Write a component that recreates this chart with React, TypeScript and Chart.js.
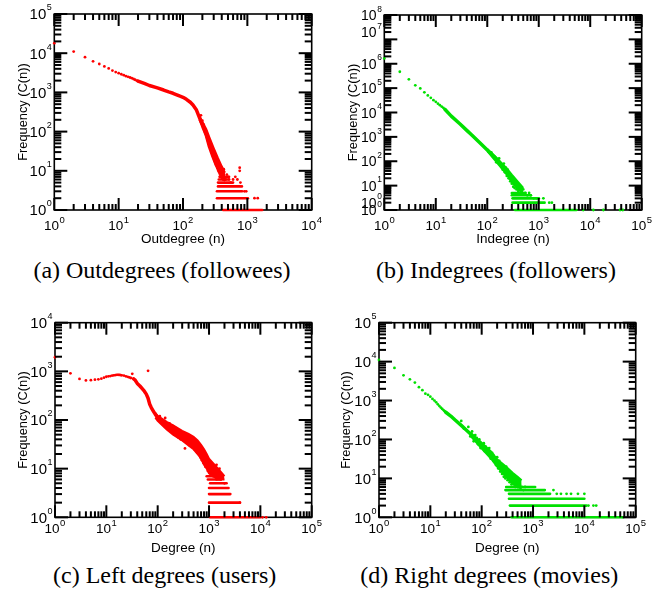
import React, { useEffect, useRef } from 'react';
import { Chart, registerables } from 'chart.js';

Chart.register(...registerables);

const RED = '#ff0000';
const GREEN = '#00e000';
const SANS = "'Liberation Sans', Arial, Helvetica, sans-serif";

// ---------- (a) Outdegrees (followees) ----------
const outHeadX = [1, 2, 3, 4, 5, 6, 7, 8, 9, 10, 11, 12, 13, 14, 15, 16, 17, 18, 19, 20];
const outHeadY = [18000, 11000, 7900, 6200, 5300, 4600, 4100, 3600, 3300, 3100, 2900, 2750, 2600, 2500, 2400, 2300, 2200, 2100, 2000, 1950];
const outCurveX = [20, 25, 30, 40, 50, 60, 70, 80, 90, 100, 113, 130, 143, 162, 182, 204, 230, 258, 293, 330];
const outCurveY = [1950, 1700, 1500, 1300, 1150, 1030, 950, 870, 800, 750, 665, 560, 475, 355, 218, 133, 82, 41, 23, 14];
const outUpperX = [180, 200, 230, 260, 300, 350, 400, 450];
const outUpperY = [250, 180, 115, 68, 38, 21, 13, 9];
const outLowerX = [180, 200, 230, 260, 300, 350, 400, 450];
const outLowerY = [200, 140, 75, 40, 20, 10, 6.5, 5.5];
const outTailX = [190, 200, 210, 220, 230, 240, 250, 260, 270, 280, 290, 300, 310, 320, 330, 340, 350, 360, 370, 380, 390, 400, 410, 420, 430, 440, 460, 480, 500, 520, 550, 600, 650, 700, 760, 760, 780, 820, 900, 960, 1290, 1450];
const outTailY = [260, 190, 150, 110, 100, 70, 60, 48, 45, 33, 38, 22, 28, 17, 20, 12, 18, 10, 15, 8, 12, 7, 9, 6, 11, 7, 6, 8, 7, 6, 5, 6, 7, 6, 12, 10, 5, 4, 3, 3, 2, 2];
const outBandY = [1, 2, 3, 4, 5, 6, 7];
const outBandFrom = [420, 337, 337, 350, 350, 360, 370];
const outBandTo = [1700, 1020, 830, 780, 600, 500, 520];
const outXTicks = [1, 10, 100, 1000, 10000];
const outXExp = ['0', '1', '2', '3', '4'];
const outYTicks = [1, 10, 100, 1000, 10000, 100000];
const outYExp = ['0', '1', '2', '3', '4', '5'];

// ---------- (b) Indegrees (followers) ----------
const inHeadX = [1, 2, 3, 4, 5, 6, 7, 8, 9, 10, 11, 12, 13, 14];
const inHeadY = [1650000, 470000, 230000, 130000, 97000, 67000, 50000, 40000, 32000, 27500, 23000, 20000, 17500, 15500];
const inCurveX = [15, 20, 30, 40, 50, 70, 100, 130, 160, 200, 250];
const inCurveY = [13500, 7100, 3300, 1850, 1200, 600, 290, 170, 110, 60, 36];
const inUpperX = [100, 150, 200, 250, 300, 400, 500];
const inUpperY = [320, 140, 75, 45, 28, 14, 8];
const inLowerX = [100, 150, 200, 250, 300, 400, 500];
const inLowerY = [260, 95, 45, 25, 14, 7, 5];
const inTailX = [120, 140, 150, 170, 180, 200, 210, 220, 230, 240, 250, 260, 270, 280, 290, 300, 310, 320, 330, 340, 350, 370, 380, 400, 420, 450, 480, 500, 550, 600, 650, 700, 800, 900, 1000, 1230, 1600, 1800, 7300, 11500, 18000, 38000, 43000];
const inTailY = [230, 150, 90, 130, 70, 45, 80, 35, 55, 25, 45, 20, 30, 15, 25, 12, 18, 9, 14, 8, 11, 7, 9, 6, 8, 6, 5, 7, 5, 4, 5, 4, 3, 3, 3, 3, 2, 2, 1, 1, 1, 1, 1];
const inBandY = [1, 2, 3, 4, 5];
const inBandFrom = [345, 310, 310, 300, 300];
const inBandTo = [5400, 1300, 980, 700, 550];
const inXTicks = [1, 10, 100, 1000, 10000, 100000];
const inXExp = ['0', '1', '2', '3', '4', '5'];
const inYTicks = [1, 2, 10, 100, 1000, 10000, 100000, 1000000, 20000000, 100000000];
const inYExp = ['0', '0', '1', '2', '3', '4', '5', '6', '7', '8'];

// ---------- (c) Left degrees (users) ----------
const leftHeadX = [1, 2, 3, 4, 5, 6, 7, 8, 9, 10, 11, 12, 13, 14, 15, 16, 17, 18, 19, 20, 22, 24, 26, 28, 30, 32, 34];
const leftHeadY = [1950, 910, 700, 652, 660, 673, 684, 706, 740, 774, 790, 800, 820, 830, 840, 850, 850, 845, 840, 830, 820, 790, 770, 750, 730, 890, 700];
const leftCurveX = [34, 36, 40, 45, 50, 55, 60, 65, 70, 75, 80, 90, 100, 120, 150, 200, 250, 300, 400, 500, 600, 700, 800, 1000, 1200];
const leftCurveY = [700, 670, 565, 500, 440, 390, 340, 280, 210, 180, 160, 130, 112, 95, 78, 62, 52, 45, 38, 32, 26, 22, 18, 12, 9];
const leftUpperX = [90, 100, 150, 200, 300, 400, 500, 600, 700, 800, 900, 1000, 1200, 1500, 2000];
const leftUpperY = [140, 122, 92, 78, 60, 52, 45, 38, 31, 25, 20, 16, 13, 10, 7];
const leftLowerX = [90, 100, 150, 200, 300, 400, 500, 600, 700, 800, 900, 1000, 1200, 1500, 2000];
const leftLowerY = [112, 96, 64, 50, 38, 30, 25, 20, 16, 12, 10, 8, 7, 6, 6];
const leftTailX = [65, 110, 130, 140, 160, 170, 180, 200, 220, 230, 250, 260, 280, 300, 320, 340, 350, 380, 400, 420, 450, 480, 500, 520, 550, 580, 600, 620, 650, 680, 700, 720, 750, 780, 800, 850, 900, 950, 1050, 1100, 1200, 1300, 1400, 1400, 1500, 1600, 1700, 2000, 4000, 11000, 13000];
const leftTailY = [1025, 120, 90, 110, 70, 85, 58, 75, 55, 68, 44, 60, 40, 55, 38, 26, 48, 34, 45, 30, 40, 28, 38, 25, 33, 22, 30, 20, 27, 17, 25, 15, 20, 13, 16, 11, 14, 9, 8, 9, 7, 8, 6, 12, 7, 10, 6, 5, 2, 1, 1];
const leftBandY = [1, 2, 3, 4, 5, 6, 7];
const leftBandFrom = [1050, 1000, 1000, 1000, 1050, 950, 900];
const leftBandTo = [10000, 4000, 2600, 2400, 2200, 1700, 1500];
const leftXTicks = [1, 10, 100, 1000, 10000, 100000];
const leftXExp = ['0', '1', '2', '3', '4', '5'];
const leftYTicks = [1, 10, 100, 1000, 10000];
const leftYExp = ['0', '1', '2', '3', '4'];

// ---------- (d) Right degrees (movies) ----------
const rightHeadX = [1, 2, 3, 4, 5, 6, 7, 8, 9, 10, 11, 12, 13, 14, 15, 16, 17, 18, 19, 20];
const rightHeadY = [11000, 6900, 4450, 3500, 2900, 2200, 1850, 1500, 1400, 1260, 1100, 1000, 900, 800, 720, 660, 610, 570, 530, 500];
const rightCurveX = [20, 25, 30, 40, 50, 60, 70, 80, 100, 120, 150, 200, 250, 300, 400, 500];
const rightCurveY = [500, 400, 320, 230, 175, 140, 112, 95, 70, 55, 40, 26, 18, 14, 10, 8];
const rightUpperX = [60, 100, 150, 200, 300, 400, 500, 600];
const rightUpperY = [150, 82, 50, 31, 20, 14, 11, 9];
const rightLowerX = [60, 100, 150, 200, 300, 400, 500, 600];
const rightLowerY = [125, 58, 33, 20, 11, 7.5, 6, 5.5];
const rightTailX = [40, 45, 55, 60, 65, 70, 75, 80, 85, 90, 95, 110, 115, 120, 130, 140, 150, 160, 168, 170, 180, 190, 200, 210, 220, 230, 240, 250, 260, 270, 280, 290, 300, 320, 330, 350, 370, 380, 400, 420, 450, 480, 500, 550, 600, 650, 700, 2500, 2900, 3500, 4500, 5500, 7500, 10000, 12000, 15000, 17000];
const rightTailY = [300, 190, 210, 120, 160, 90, 130, 110, 75, 100, 60, 80, 50, 65, 45, 60, 32, 45, 40, 28, 35, 22, 35, 18, 28, 15, 22, 13, 19, 11, 16, 10, 20, 9, 12, 8, 13, 7, 9, 7, 6, 8, 6, 7, 6, 5, 6, 5, 4, 4, 4, 4, 4, 4, 2, 2, 2];
const rightBandY = [1, 2, 3, 4, 5, 6];
const rightBandFrom = [385, 355, 340, 340, 290, 300];
const rightBandTo = [58000, 11000, 10000, 2150, 1700, 1100];
const rightXTicks = [1, 10, 100, 1000, 10000, 100000];
const rightXExp = ['0', '1', '2', '3', '4', '5'];
const rightYTicks = [1, 10, 100, 1000, 10000, 100000];
const rightYExp = ['0', '1', '2', '3', '4', '5'];

// Minor-tick multipliers inside each decade of a log axis.
const DECADE_STEPS = [1, 2, 3, 4, 5, 6, 7, 8, 9];

interface Panel {
  left: number; top: number; w: number; h: number;
  area: { l: number; r: number; t: number; b: number };
  xMax: number; yMax: number;
  xTicks: number[]; xExp: string[]; yTicks: number[]; yExp: string[];
  xTitle: string; color: string;
  headX: number[]; headY: number[];
  curveX: number[]; curveY: number[];
  upperX: number[]; upperY: number[]; lowerX: number[]; lowerY: number[];
  tailX: number[]; tailY: number[];
  bandY: number[]; bandFrom: number[]; bandTo: number[];
  xTitleY: number; yTitleX: number; xLabelBase: number; yLabelSize: number;
}

const PANELS: Panel[] = [
  {
    left: 0, top: 0, w: 331, h: 252,
    area: { l: 54.3, r: 311.7, t: 14, b: 210 },
    xMax: 10000, yMax: 100000,
    xTicks: outXTicks, xExp: outXExp, yTicks: outYTicks, yExp: outYExp,
    xTitle: 'Outdegree (n)', color: RED,
    headX: outHeadX, headY: outHeadY, curveX: outCurveX, curveY: outCurveY,
    upperX: outUpperX, upperY: outUpperY, lowerX: outLowerX, lowerY: outLowerY,
    tailX: outTailX, tailY: outTailY, bandY: outBandY, bandFrom: outBandFrom, bandTo: outBandTo,
    xTitleY: 239.5, yTitleX: 23, xLabelBase: 20, yLabelSize: 15,
  },
  {
    left: 331, top: 0, w: 332, h: 252,
    area: { l: 53.3, r: 310.7, t: 15, b: 210 },
    xMax: 100000, yMax: 100000000,
    xTicks: inXTicks, xExp: inXExp, yTicks: inYTicks, yExp: inYExp,
    xTitle: 'Indegree (n)', color: GREEN,
    headX: inHeadX, headY: inHeadY, curveX: inCurveX, curveY: inCurveY,
    upperX: inUpperX, upperY: inUpperY, lowerX: inLowerX, lowerY: inLowerY,
    tailX: inTailX, tailY: inTailY, bandY: inBandY, bandFrom: inBandFrom, bandTo: inBandTo,
    xTitleY: 239.5, yTitleX: 22.7, xLabelBase: 20, yLabelSize: 14,
  },
  {
    left: 0, top: 300, w: 331, h: 258,
    area: { l: 55, r: 311.7, t: 22.7, b: 217.3 },
    xMax: 100000, yMax: 10000,
    xTicks: leftXTicks, xExp: leftXExp, yTicks: leftYTicks, yExp: leftYExp,
    xTitle: 'Degree (n)', color: RED,
    headX: leftHeadX, headY: leftHeadY, curveX: leftCurveX, curveY: leftCurveY,
    upperX: leftUpperX, upperY: leftUpperY, lowerX: leftLowerX, lowerY: leftLowerY,
    tailX: leftTailX, tailY: leftTailY, bandY: leftBandY, bandFrom: leftBandFrom, bandTo: leftBandTo,
    xTitleY: 248.2, yTitleX: 23, xLabelBase: 16, yLabelSize: 15,
  },
  {
    left: 331, top: 300, w: 332, h: 258,
    area: { l: 48, r: 304.7, t: 22.7, b: 217.3 },
    xMax: 100000, yMax: 100000,
    xTicks: rightXTicks, xExp: rightXExp, yTicks: rightYTicks, yExp: rightYExp,
    xTitle: 'Degree (n)', color: GREEN,
    headX: rightHeadX, headY: rightHeadY, curveX: rightCurveX, curveY: rightCurveY,
    upperX: rightUpperX, upperY: rightUpperY, lowerX: rightLowerX, lowerY: rightLowerY,
    tailX: rightTailX, tailY: rightTailY, bandY: rightBandY, bandFrom: rightBandFrom, bandTo: rightBandTo,
    xTitleY: 248.2, yTitleX: 15.8, xLabelBase: 16, yLabelSize: 15,
  },
];

const CAPTIONS = [
  { text: '(a) Outdegrees (followees)', cx: 162, baseline: 278 },
  { text: '(b) Indegrees (followers)', cx: 496, baseline: 278 },
  { text: '(c) Left degrees (users)', cx: 164.6, baseline: 583.5 },
  { text: '(d) Right degrees (movies)', cx: 489.3, baseline: 583.5 },
];

const X_TITLE_SIZE = 13.5;
const Y_TITLE_SIZE = 12.8;

function drawPow(ctx: CanvasRenderingContext2D, x: number, baseline: number, exp: string,
  baseSize: number, expSize: number, rise: number, align: string) {
  const baseFont = baseSize + 'px ' + SANS;
  const expFont = expSize + 'px ' + SANS;
  ctx.font = baseFont;
  const wb = ctx.measureText('10').width;
  ctx.font = expFont;
  const we = ctx.measureText(exp).width;
  const gap = 0.5;
  const total = wb + gap + we;
  const x0 = align === 'center' ? x - total / 2 : x - total;
  ctx.textAlign = 'left';
  ctx.textBaseline = 'alphabetic';
  ctx.fillStyle = '#000';
  ctx.font = baseFont;
  ctx.fillText('10', x0, baseline);
  ctx.font = expFont;
  ctx.fillText(exp, x0 + wb + gap, baseline - rise);
}

function axisMarks(max: number) {
  const out: Array<{ v: number; major: boolean }> = [];
  let base = 1;
  while (base < max * 0.999) {
    for (let i = 0; i < DECADE_STEPS.length; i++) out.push({ v: base * DECADE_STEPS[i], major: i === 0 });
    base = base * 10;
  }
  out.push({ v: max, major: true });
  return out;
}

function makeFramePlugin(p: Panel) {
  return {
    id: 'frameTicks',
    beforeDatasetsDraw(chart: any) {
      const ctx: CanvasRenderingContext2D = chart.ctx;
      const a = chart.chartArea;
      ctx.save();
      ctx.strokeStyle = '#000';
      ctx.lineWidth = 1.6;
      ctx.strokeRect(a.left, a.top, a.right - a.left, a.bottom - a.top);
      ctx.restore();
    },
    afterDraw(chart: any) {
      const ctx: CanvasRenderingContext2D = chart.ctx;
      const a = chart.chartArea;
      const xs = chart.scales.x;
      const ys = chart.scales.y;
      ctx.save();
      ctx.fillStyle = '#000';
      axisMarks(p.xMax).forEach((m) => {
        const px = xs.getPixelForValue(m.v);
        const L = m.major ? 12 : 6;
        ctx.fillRect(px - 1, a.bottom - L, 2, L);
        ctx.fillRect(px - 1, a.top, 2, L);
      });
      axisMarks(p.yMax).forEach((m) => {
        const py = ys.getPixelForValue(m.v);
        const L = m.major ? 13 : 7;
        ctx.fillRect(a.left, py - 1, L, 2);
        ctx.fillRect(a.right - L, py - 1, L, 2);
      });
      for (let i = 0; i < p.xTicks.length; i++) {
        drawPow(ctx, xs.getPixelForValue(p.xTicks[i]), a.bottom + p.xLabelBase, p.xExp[i], 13.5, 9.5, 7.3, 'center');
      }
      const s0 = p.yLabelSize;
      for (let i = 0; i < p.yTicks.length; i++) {
        drawPow(ctx, a.left - 2.5, ys.getPixelForValue(p.yTicks[i]) + 0.36 * s0, p.yExp[i], s0, s0 * 0.6, s0 * 0.6, 'right');
      }
      ctx.restore();
    },
  };
}

function pts(xs: number[], ys: number[]) {
  return xs.map((x, i) => ({ x, y: ys[i] }));
}

function buildConfig(p: Panel): any {
  const dot = { showLine: false, pointRadius: 1.4, pointBorderWidth: 0, pointBackgroundColor: p.color, borderColor: p.color, backgroundColor: p.color, clip: false };
  const datasets: any[] = [
    { ...dot, data: pts(p.headX, p.headY) },
    { data: pts(p.curveX, p.curveY), showLine: true, borderColor: p.color, borderWidth: 3.5, pointRadius: 0, tension: 0, borderCapStyle: 'round', borderJoinStyle: 'round', clip: false },
    { data: pts(p.upperX, p.upperY), showLine: true, borderColor: p.color, borderWidth: 2, pointRadius: 0, fill: false, clip: false },
    { data: pts(p.lowerX, p.lowerY), showLine: true, borderColor: p.color, borderWidth: 2, pointRadius: 0, fill: '-1', backgroundColor: p.color, clip: false },
    { ...dot, data: pts(p.tailX, p.tailY) },
    ...p.bandY.map((lv, i) => ({
      data: [{ x: p.bandFrom[i], y: lv }, { x: p.bandTo[i], y: lv }],
      showLine: true, borderColor: p.color, borderWidth: 2.6, pointRadius: 0, borderCapStyle: 'round', clip: false,
    })),
  ];
  const xLH = X_TITLE_SIZE * 1.2;
  const yLH = Y_TITLE_SIZE * 1.2;
  return {
    type: 'scatter',
    data: { datasets },
    plugins: [makeFramePlugin(p)],
    options: {
      responsive: true,
      maintainAspectRatio: false,
      animation: false,
      events: [],
      layout: { padding: { left: 0, top: p.area.t, right: p.w - p.area.r, bottom: 0 } },
      plugins: { legend: { display: false }, tooltip: { enabled: false } },
      scales: {
        x: {
          type: 'logarithmic', position: 'bottom', min: 1, max: p.xMax,
          grid: { display: false }, border: { display: false },
          ticks: { display: false },
          title: {
            display: true, text: p.xTitle, color: '#000',
            font: { family: SANS, size: X_TITLE_SIZE },
            padding: { top: 0, bottom: p.h - xLH / 2 - p.xTitleY },
          },
          afterFit: (s: any) => { s.height = p.h - p.area.b; },
        },
        y: {
          type: 'logarithmic', position: 'left', min: 1, max: p.yMax,
          grid: { display: false }, border: { display: false },
          ticks: { display: false },
          title: {
            display: true, text: 'Frequency (C(n))', color: '#000',
            font: { family: SANS, size: Y_TITLE_SIZE },
            padding: { top: p.yTitleX - yLH / 2, bottom: 0 },
          },
          afterFit: (s: any) => { s.width = p.area.l; },
        },
      },
    },
  };
}

function ChartPanel({ p }: { p: Panel }) {
  const ref = useRef<HTMLCanvasElement>(null);
  useEffect(() => {
    if (!ref.current) return;
    const chart = new Chart(ref.current, buildConfig(p));
    return () => chart.destroy();
  }, [p]);
  return (
    <div style={{ position: 'absolute', left: p.left, top: p.top, width: p.w, height: p.h }}>
      <canvas ref={ref} />
    </div>
  );
}

export default function App() {
  return (
    <div style={{ position: 'absolute', left: 0, top: 0, width: 663, height: 590, background: '#fff', overflow: 'hidden' }}>
      {PANELS.map((p, i) => <ChartPanel key={i} p={p} />)}
      {CAPTIONS.map((c, i) => (
        <div key={i} style={{
          position: 'absolute', left: c.cx - 200, width: 400, top: c.baseline - 20.1,
          textAlign: 'center', fontFamily: "'Liberation Serif', 'Times New Roman', serif",
          fontSize: 24, lineHeight: '24px', color: '#000', whiteSpace: 'nowrap',
        }}>{c.text}</div>
      ))}
    </div>
  );
}
